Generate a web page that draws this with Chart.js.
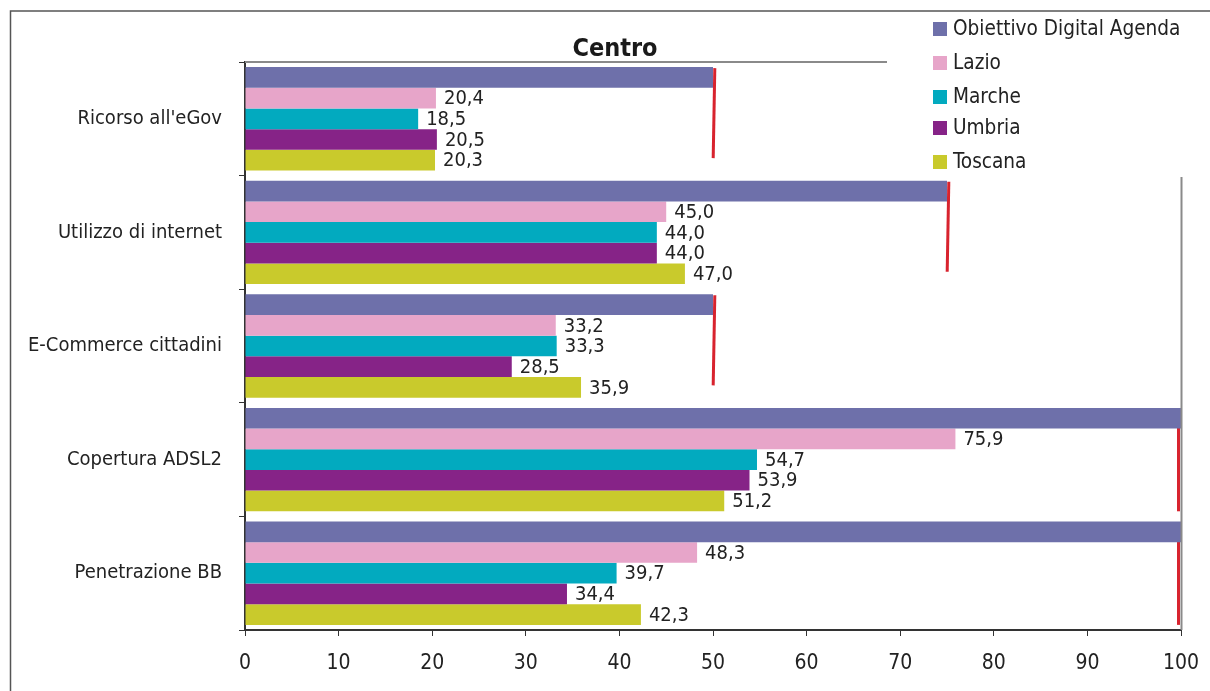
<!DOCTYPE html>
<html>
<head>
<meta charset="utf-8">
<script src="https://cdn.jsdelivr.net/npm/chart.js@4/dist/chart.umd.min.js"></script>
<style>
  html, body { margin: 0; padding: 0; background: #fff; }
  #wrap { position: relative; width: 1210px; height: 691px; }
  canvas { display: block; }
</style>
</head>
<body>
<div id="wrap"><canvas id="c" width="1210" height="691"></canvas></div>
<script>
// Indicators for the Centro region
const categories = ["Ricorso all'eGov", "Utilizzo di internet", "E-Commerce cittadini", "Copertura ADSL2", "Penetrazione BB"];
const seriesNames = ["Obiettivo Digital Agenda", "Lazio", "Marche", "Umbria", "Toscana"];
const obiettivo = [50, 75, 50, 100, 100];
const lazio     = [20.4, 45.0, 33.2, 75.9, 48.3];
const marche    = [18.5, 44.0, 33.3, 54.7, 39.7];
const umbria    = [20.5, 44.0, 28.5, 53.9, 34.4];
const toscana   = [20.3, 47.0, 35.9, 51.2, 42.3];
const xTicks = [0, 10, 20, 30, 40, 50, 60, 70, 80, 90, 100];

const colors = ['#6e70aa', '#e7a5c9', '#02aabf', '#862387', '#c9ca2c'];
const FONT = '"DejaVu Sans Condensed", "DejaVu Sans", sans-serif';

const seriesValues = [obiettivo, lazio, marche, umbria, toscana];
const datasets = seriesNames.map((name, i) => ({
  label: name,
  data: seriesValues[i],
  backgroundColor: colors[i],
  borderWidth: 0,
  barPercentage: 1.0,
  categoryPercentage: 0.91
}));

const fmt = v => v.toFixed(1).replace('.', ',');

// frame, plot borders, title, target markers, value labels, legend
const decorations = {
  id: 'decorations',
  beforeDraw(chart) {
    const ctx = chart.ctx;
    ctx.save();
    ctx.fillStyle = '#fff';
    ctx.fillRect(0, 0, chart.width, chart.height);
    ctx.strokeStyle = '#555';
    ctx.lineWidth = 1.5;
    ctx.strokeRect(10.5, 11, chart.width + 20, chart.height + 20);
    ctx.restore();
  },
  beforeDatasetsDraw(chart) {
    const ctx = chart.ctx;
    const xs = chart.scales.x;
    const first = chart.getDatasetMeta(0).data;
    const last = chart.getDatasetMeta(seriesNames.length - 1).data;
    ctx.save();
    // target markers beside each category group
    ctx.strokeStyle = '#d8232e';
    ctx.lineWidth = 3;
    obiettivo.forEach((v, i) => {
      const b0 = first[i], b1 = last[i];
      let top, bot, dx, slant;
      if (v >= 100) {
        top = b0.y + b0.height / 2 - 6;
        bot = b1.y + b1.height / 2;
        dx = -2.5;
        slant = 0;
      } else {
        top = b0.y - b0.height / 2 + 1;
        bot = b1.y - 2;
        dx = 1;
        slant = 0.8;
      }
      const x = xs.getPixelForValue(v) + dx;
      ctx.beginPath();
      ctx.moveTo(x + slant, top);
      ctx.lineTo(x - slant, bot);
      ctx.stroke();
    });
    ctx.restore();
  },
  afterDatasetsDraw(chart) {
    const ctx = chart.ctx;
    const area = chart.chartArea;
    ctx.save();
    // plot border (top and right)
    ctx.strokeStyle = '#8a8a8a';
    ctx.lineWidth = 2;
    ctx.beginPath();
    ctx.moveTo(area.left, area.top);
    ctx.lineTo(area.right, area.top);
    ctx.moveTo(area.right + 0.5, area.top);
    ctx.lineTo(area.right + 0.5, area.bottom);
    ctx.stroke();

    // value labels for regional series
    ctx.fillStyle = '#222';
    ctx.font = '20px ' + FONT;
    ctx.textBaseline = 'middle';
    ctx.textAlign = 'left';
    for (let d = 1; d < seriesNames.length; d++) {
      const meta = chart.getDatasetMeta(d);
      meta.data.forEach((b, i) => {
        ctx.fillText(fmt(seriesValues[d][i]), b.x + 8, b.y + 1);
      });
    }

    // legend panel
    ctx.fillStyle = '#fff';
    ctx.fillRect(887, 12, 320, 165);
    const rows = [29, 63, 97, 128, 162];
    ctx.font = '20.6px ' + FONT;
    seriesNames.forEach((name, i) => {
      ctx.fillStyle = colors[i];
      ctx.fillRect(933, rows[i] - 7, 14, 14);
      ctx.fillStyle = '#222';
      ctx.fillText(name, 953, rows[i] + 1);
    });

    // title
    ctx.fillStyle = '#1a1a1a';
    ctx.font = 'bold 25px ' + FONT;
    ctx.textAlign = 'center';
    ctx.textBaseline = 'alphabetic';
    ctx.fillText('Centro', 615, 56);
    ctx.restore();
  }
};

new Chart(document.getElementById('c'), {
  type: 'bar',
  data: { labels: categories, datasets },
  options: {
    indexAxis: 'y',
    responsive: false,
    animation: false,
    devicePixelRatio: 1,
    layout: { padding: { left: 0, top: 62, right: 29, bottom: 0 } },
    plugins: { legend: { display: false }, tooltip: { enabled: false }, title: { display: false } },
    scales: {
      x: {
        type: 'linear',
        min: 0, max: 100,
        afterBuildTicks(scale) { scale.ticks = xTicks.map(v => ({ value: v })); },
        afterFit(scale) {
          scale.height = 61;
          scale.paddingLeft = 0;
          scale.paddingRight = 0;
        },
        border: { display: true, color: '#333', width: 2 },
        grid: { display: true, drawOnChartArea: false, drawTicks: true, tickLength: 6, color: '#333', lineWidth: 1 },
        ticks: { color: '#222', font: { family: FONT, size: 21 }, padding: 15, maxRotation: 0 }
      },
      y: {
        type: 'category',
        offset: true,
        afterFit(scale) {
          scale.width = 245;
          scale.paddingTop = 0;
          scale.paddingBottom = 0;
        },
        border: { display: true, color: '#333', width: 2 },
        grid: { display: true, offset: true, drawOnChartArea: false, drawTicks: true, tickLength: 6, color: '#333', lineWidth: 1 },
        ticks: { color: '#222', font: { family: FONT, size: 20 }, padding: 17 }
      }
    }
  },
  plugins: [decorations]
});
</script>
</body>
</html>
